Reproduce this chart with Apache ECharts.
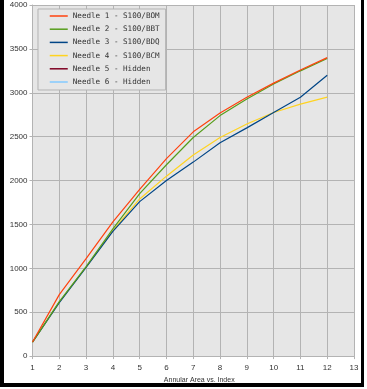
<!DOCTYPE html>
<html>
<head>
<meta charset="utf-8">
<script src="https://cdn.jsdelivr.net/npm/echarts@6/dist/echarts.min.js"></script>
<style>
html,body{margin:0;padding:0;background:#fff;}
#chart{position:absolute;left:0;top:0;width:367px;height:389px;}
#frame{position:absolute;left:0;top:0;width:364px;height:387px;box-sizing:border-box;border-left:4px solid #000;border-right:3px solid #000;border-bottom:4px solid #000;pointer-events:none;}
</style>
</head>
<body>
<div id="chart"></div>
<div id="frame"></div>
<script>
const xValues = [1, 2, 3, 4, 5, 6, 7, 8, 9, 10, 11, 12];
const seriesNames = ["Needle 1 - S100/BOM", "Needle 2 - S100/BBT", "Needle 3 - S100/BDQ", "Needle 4 - S100/BCM", "Needle 5 - Hidden", "Needle 6 - Hidden"];
const needle1 = [160, 700, 1110, 1530, 1900, 2250, 2555, 2770, 2950, 3110, 3260, 3400];
const needle2 = [160, 620, 1020, 1450, 1850, 2180, 2490, 2740, 2930, 3100, 3250, 3390];
const needle3 = [160, 610, 1010, 1420, 1760, 2000, 2210, 2430, 2600, 2775, 2950, 3200];
const needle4 = [160, 615, 1015, 1430, 1790, 2050, 2290, 2490, 2645, 2775, 2870, 2950];
const needle5 = [];
const needle6 = [];
const colors = ["#ff420e", "#579d1c", "#004586", "#ffd320", "#7e0021", "#83caff"];
const xAxisName = "Annular Area vs. Index";

const allValues = [needle1, needle2, needle3, needle4, needle5, needle6];
const chart = echarts.init(document.getElementById('chart'), null, {renderer: 'canvas'});
const series = allValues.map((vals, i) => ({
  name: seriesNames[i],
  type: 'line',
  data: vals.map((v, j) => [xValues[j], v]),
  showSymbol: false,
  symbol: 'none',
  lineStyle: {width: 1.2, color: colors[i]},
  itemStyle: {color: colors[i]},
  animation: false,
  z: 10 - i
}));
chart.setOption({
  animation: false,
  grid: {left: 32.5, right: 13, top: 5, bottom: 29, backgroundColor: '#e6e6e6', show: true, borderWidth: 0},
  legend: {
    orient: 'vertical', left: 38, top: 9,
    padding: [3, 6, 4, 11],
    itemGap: 5.2, itemWidth: 18, itemHeight: 8, itemTextGap: 1,
    itemStyle: {opacity: 0},
    lineStyle: {width: 1.5},
    backgroundColor: '#e6e6e6', borderColor: '#b3b3b3', borderWidth: 1,
    textStyle: {fontFamily: 'DejaVu Sans Mono', fontSize: 7.6, color: '#333'},
    data: seriesNames
  },
  xAxis: {
    type: 'value', min: 1, max: 13, interval: 1,
    name: xAxisName, nameLocation: 'middle', nameGap: 18,
    nameTextStyle: {fontFamily: 'Liberation Sans', fontSize: 7, color: '#333', padding: [0, 0, 0, 12]},
    axisLine: {show: true, lineStyle: {color: '#b3b3b3'}},
    axisTick: {show: true, length: 3, lineStyle: {color: '#b3b3b3'}},
    axisLabel: {fontFamily: 'Liberation Sans', fontSize: 8, color: '#333', margin: 8},
    splitLine: {show: true, lineStyle: {color: '#b3b3b3', width: 1}}
  },
  yAxis: {
    type: 'value', min: 0, max: 4000, interval: 500,
    axisLine: {show: true, lineStyle: {color: '#b3b3b3'}},
    axisTick: {show: true, length: 3, lineStyle: {color: '#b3b3b3'}},
    axisLabel: {fontFamily: 'Liberation Sans', fontSize: 8, color: '#333', margin: 5, formatter: v => String(v)},
    splitLine: {show: true, lineStyle: {color: '#b3b3b3', width: 1}}
  },
  series: series
});
</script>
</body>
</html>
